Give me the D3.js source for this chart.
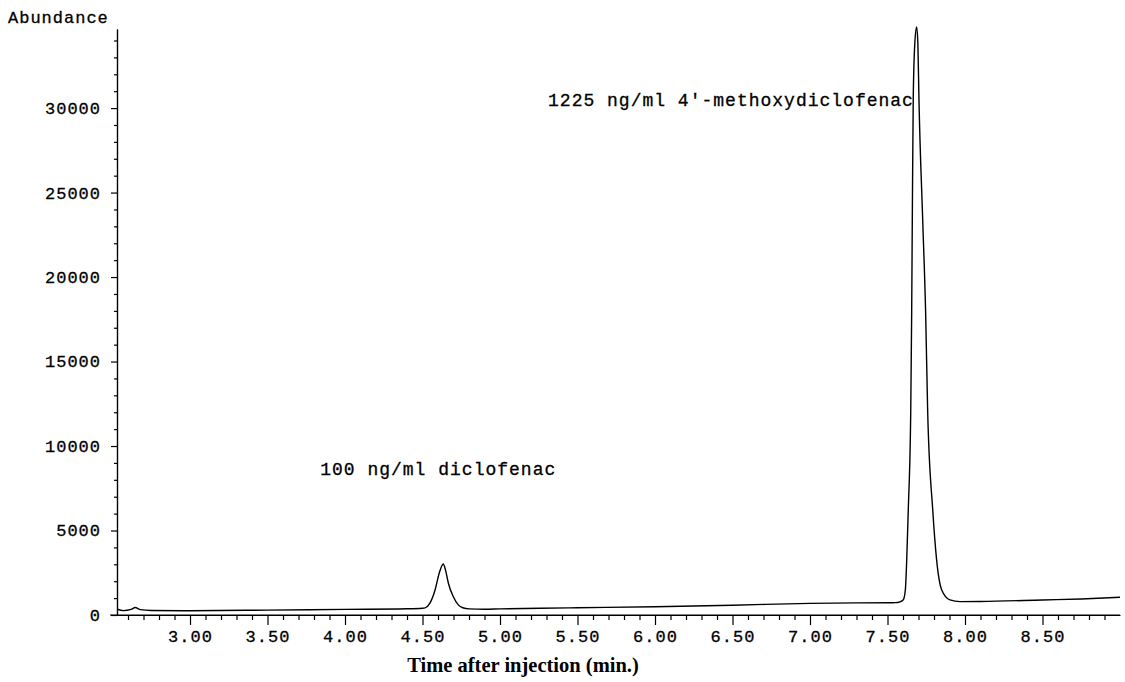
<!DOCTYPE html>
<html>
<head>
<meta charset="utf-8">
<script src="https://cdn.jsdelivr.net/npm/d3@7"></script>
<style>
  html, body { margin: 0; padding: 0; background: #fff; }
  svg { display: block; }
  .mono { font-family: "Liberation Mono", "Courier New", monospace; fill: #000; stroke: #000; stroke-width: 0.3; }
  .axis path, .axis line { stroke: #000; stroke-width: 1.2; }
  .axis text { font-family: "Liberation Mono", "Courier New", monospace; font-size: 17px; letter-spacing: 1px; fill: #000; stroke: #000; stroke-width: 0.3; }
</style>
</head>
<body>
<svg id="chart" width="1125" height="682"></svg>
<script>
// retention time (min) and abundance
const times = [2.53, 2.57, 2.62, 2.646, 2.68, 2.75, 3.00, 3.50, 4.00, 4.40, 4.50, 4.516,
  4.548, 4.581, 4.61, 4.634, 4.65, 4.667, 4.699, 4.731, 4.76, 4.80, 4.90, 5.00, 5.26,
  5.50, 6.00, 6.50, 7.00, 7.30, 7.55, 7.581, 7.602, 7.615, 7.624, 7.634, 7.650, 7.656,
  7.660, 7.666, 7.676, 7.688, 7.696, 7.703, 7.727, 7.746, 7.759, 7.792, 7.817, 7.850,
  7.903, 7.968, 8.10, 8.50, 8.75, 9.00];
const abundance = [340, 260, 330, 440, 320, 270, 255, 290, 335, 370, 400, 420,
  700, 1480, 2550, 3020, 2600, 1880, 1080, 600, 430, 360, 340, 360, 400,
  430, 490, 580, 690, 720, 730, 780, 900, 1480, 3250, 6200, 12100, 17900,
  23400, 30500, 33800, 34800, 33800, 30500, 23400, 17900, 12100, 6200, 3250, 1480,
  890, 790, 800, 890, 950, 1050];

const xMajor = [3.00, 3.50, 4.00, 4.50, 5.00, 5.50, 6.00, 6.50, 7.00, 7.50, 8.00, 8.50];
const yMajor = [0, 5000, 10000, 15000, 20000, 25000, 30000];

const annotations = [
  { text: "100 ng/ml diclofenac", t: 3.84, a: 8280 },
  { text: "1225 ng/ml 4'-methoxydiclofenac", t: 5.31, a: 30130 }
];

const svg = d3.select("#chart");

const x = d3.scaleLinear().domain([2.529, 9.0]).range([117, 1120]);
const y = d3.scaleLinear().domain([0, 34680]).range([615, 29]);

// minor ticks
const xMinor = d3.range(26, 90).map(d => d / 10).filter(d => !xMajor.some(m => Math.abs(m - d) < 1e-6));
const yMinor = d3.range(0, 35000, 1000).filter(d => d % 5000 !== 0);

svg.append("g")
  .attr("class", "axis")
  .attr("transform", `translate(0,${y(0)})`)
  .call(d3.axisBottom(x).tickValues(xMinor).tickSize(5).tickSizeOuter(0).tickFormat(""));

svg.append("g")
  .attr("class", "axis")
  .attr("transform", `translate(0,${y(0)})`)
  .call(d3.axisBottom(x).tickValues(xMajor).tickSize(10).tickSizeOuter(0).tickPadding(5).tickFormat(d3.format(".2f")))
  .call(g => g.select(".domain").attr("d", `M110,0H${x.range()[1]}`));

svg.append("g")
  .attr("class", "axis")
  .attr("transform", `translate(${x(2.529)},0)`)
  .call(d3.axisLeft(y).tickValues(yMinor).tickSize(3).tickSizeOuter(0).tickFormat(""));

svg.append("g")
  .attr("class", "axis")
  .attr("transform", `translate(${x(2.529)},0)`)
  .call(d3.axisLeft(y).tickValues(yMajor).tickSize(6).tickSizeOuter(0).tickPadding(10).tickFormat(d3.format("d")));

// trace
const pts = times.map((t, i) => [t, abundance[i]]);
svg.append("path")
  .datum(pts)
  .attr("fill", "none")
  .attr("stroke", "#000")
  .attr("stroke-width", 1.4)
  .attr("stroke-linejoin", "round")
  .attr("d", d3.line().x(d => x(d[0])).y(d => y(d[1])).curve(d3.curveMonotoneX));

// labels
svg.append("text")
  .attr("class", "mono")
  .attr("x", 8).attr("y", 23)
  .attr("font-size", 17).attr("letter-spacing", 1)
  .text("Abundance");

svg.selectAll("text.note")
  .data(annotations)
  .join("text")
  .attr("class", "mono note")
  .attr("x", d => x(d.t)).attr("y", d => y(d.a))
  .attr("font-size", 18).attr("letter-spacing", 1)
  .text(d => d.text);

svg.append("text")
  .attr("x", 523).attr("y", 672)
  .attr("text-anchor", "middle")
  .attr("font-family", "'Liberation Serif', 'Times New Roman', serif")
  .attr("font-weight", "bold")
  .attr("font-size", 20.5)
  .text("Time after injection (min.)");
</script>
</body>
</html>
